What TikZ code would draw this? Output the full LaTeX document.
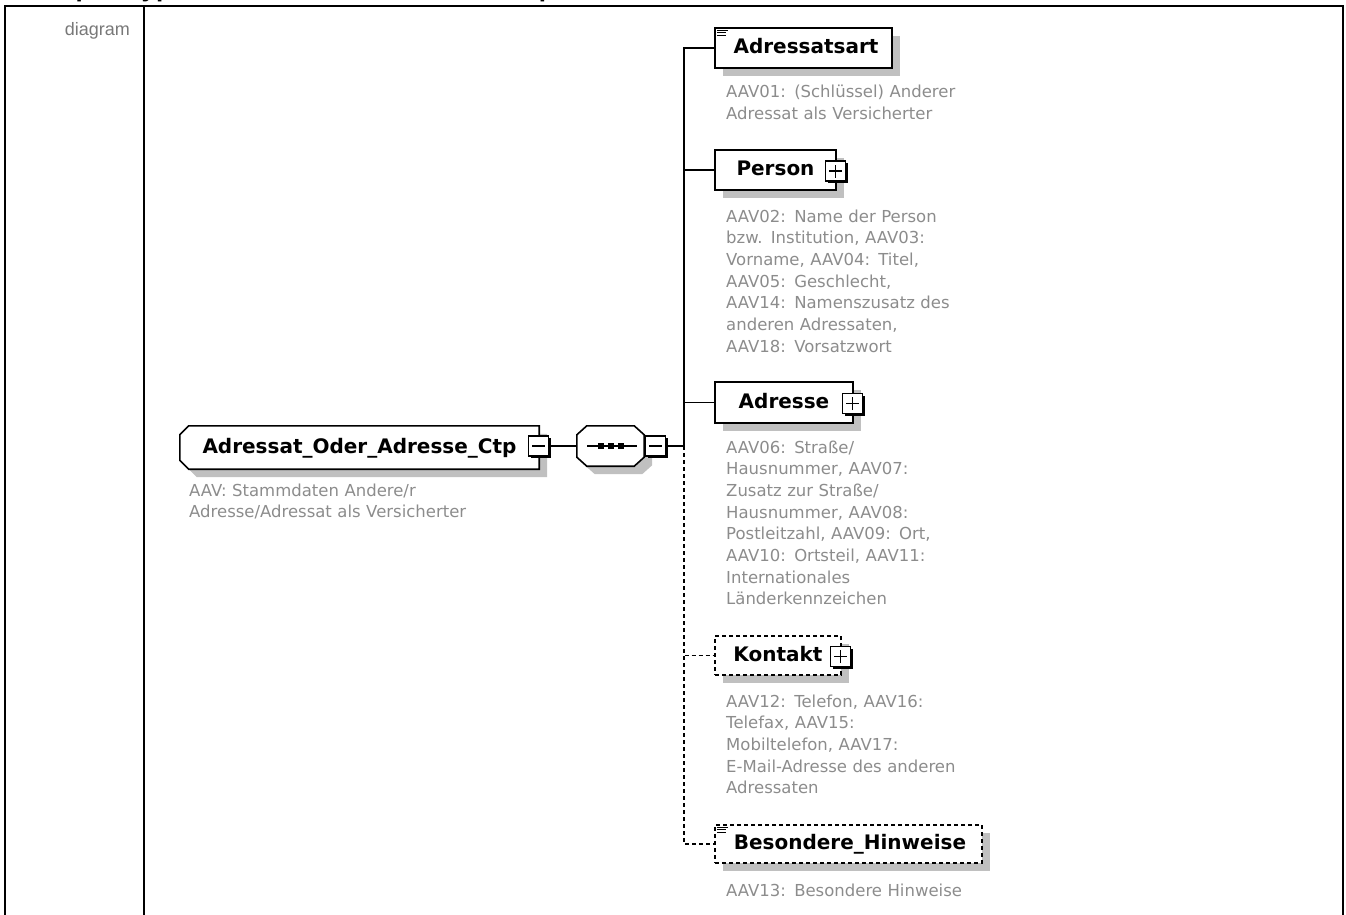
\documentclass[tikz,border=0pt]{standalone}
\usepackage{fontspec}
\setmainfont{DejaVu Sans}
\newfontfamily\arialfont{Liberation Sans}
\usetikzlibrary{shadows}
\definecolor{shadowgray}{RGB}{192,192,192}
\definecolor{descgray}{RGB}{140,140,140}
\definecolor{labelgray}{RGB}{120,120,120}
\pgfdeclarelayer{bg}
\pgfsetlayers{bg,main}
\newcommand\facetIcon[1]{%
  \draw[line width=1pt] ([shift={(3,3)}]#1.north west) -- ++(11,0)
    ([shift={(3,5.5)}]#1.north west) -- ++(9,0)
    ([shift={(3,8)}]#1.north west) -- ++(9,0);}
\begin{document}
\begin{tikzpicture}[x=1pt,y=-1pt,
  boxshadow/.style={general shadow={fill=shadowgray, shadow xshift=8pt, shadow yshift=-8pt}},
  elembox/.style={draw, line width=1.6pt, fill=white, inner sep=0pt, minimum height=40pt,
    text height=15pt, text depth=4pt, font=\bfseries\fontsize{20}{20}\selectfont, boxshadow},
  optbox/.style={elembox, dash pattern=on 4pt off 3pt},
  shapeline/.style={draw, line width=1.6pt, fill=white, boxshadow},
  plainshape/.style={inner sep=0pt, text height=15pt, text depth=4pt, font=\bfseries\fontsize{20}{20}\selectfont},
  pmbox/.style={draw, line width=1.1pt, fill=white, inner sep=0pt, minimum width=20pt, minimum height=20pt,
    general shadow={fill=black, shadow xshift=2.2pt, shadow yshift=-2.2pt}},
  minusbox/.style={pmbox, path picture={\draw[line width=1.1pt]
    ([xshift=-6.5pt]path picture bounding box.center) -- ([xshift=6.5pt]path picture bounding box.center);}},
  plusbox/.style={pmbox, path picture={\draw[line width=1.1pt]
    ([xshift=-6.5pt]path picture bounding box.center) -- ([xshift=6.5pt]path picture bounding box.center)
    ([yshift=-6.5pt]path picture bounding box.center) -- ([yshift=6.5pt]path picture bounding box.center);}},
  conn/.style={line width=1.4pt},
  optconn/.style={line width=1.4pt, dash pattern=on 4pt off 3pt},
  desc/.style={anchor=base west, inner sep=0pt, text width=320pt, align=left, text=descgray,
    font=\fontsize{16.5}{21.7}\selectfont},
  tableline/.style={line width=2pt}
]
\useasboundingbox (0,0) rectangle (1346,915);

% table frame
\begin{scope}
\clip (0,0) rectangle (1346,915);
\node[anchor=base west, inner sep=0pt, font=\arialfont\bfseries\fontsize{26}{26}\selectfont] (hdr) at (22,-3.5) {complexType Adressat\_Oder\_Adresse\_Ctp};
\end{scope}
\draw[tableline] (5,916) -- (5,6) -- (1343,6) -- (1343,916);
\draw[tableline] (144,6) -- (144,916);
\node[anchor=base east, inner sep=0pt, font=\arialfont\fontsize{18}{18}\selectfont, text=labelgray] (diaglabel) at (130,36) {diagram};

% root element
\node[plainshape, minimum width=359pt, minimum height=43pt] (root) at (359.5,447.5) {Adressat\_Oder\_Adresse\_Ctp\hspace{14pt}};
\begin{pgfonlayer}{bg}
\path[shapeline] ([xshift=9pt]root.north west) -- (root.north east) -- (root.south east)
  -- ([xshift=9pt]root.south west) -- ([yshift=9pt]root.south west) -- ([yshift=-9pt]root.north west) -- cycle;
\end{pgfonlayer}
\node[minusbox] (rootminus) at (538.5,446) {};
\node[desc] (rootdesc) at (189,496) {AAV: Stammdaten Andere/r\\Adresse/Adressat als Versicherter};

% sequence compositor
\node[plainshape, minimum width=67pt, minimum height=40pt] (seq) at (610.5,446) {};
\begin{pgfonlayer}{bg}
\path[shapeline] ([xshift=10pt]seq.north west) -- ([xshift=-10pt]seq.north east) -- ([yshift=-9pt]seq.north east)
  -- ([yshift=9pt]seq.south east) -- ([xshift=-10pt]seq.south east) -- ([xshift=10pt]seq.south west)
  -- ([yshift=9pt]seq.south west) -- ([yshift=-9pt]seq.north west) -- cycle;
\end{pgfonlayer}
\draw[line width=1.3pt] ([xshift=-23.5pt]seq.center) -- ([xshift=26.5pt]seq.center);
\foreach \dx in {-9.5,0.5,10.5}
  \fill ([shift={(\dx-3,-3)}]seq.center) rectangle ++(6,6);
\node[minusbox] (seqminus) at (655.5,446) {};

\draw[conn] (rootminus.east) -- (seq.west);
\coordinate (jn) at (684,446);
\draw[conn] (seqminus.east) -- (jn);

% children
\node[elembox, minimum width=177pt] (adressatsart) at (803.5,48) {\hspace{5pt}Adressatsart};
\facetIcon{adressatsart}
\node[desc] (adressatsartdesc) at (726,98) {AAV01: (Schlüssel) Anderer\\Adressat als Versicherter};

\node[elembox, minimum width=121pt] (person) at (775.5,170) {Person\hspace{7pt}};
\node[plusbox] (personplus) at ([shift={(-1,1)}]person.east) {};
\node[desc] (persondesc) at (726,222) {AAV02: Name der Person\\bzw. Institution, AAV03:\\Vorname, AAV04: Titel,\\AAV05: Geschlecht,\\AAV14: Namenszusatz des\\anderen Adressaten,\\AAV18: Vorsatzwort};

\node[elembox, minimum width=138pt, minimum height=41pt] (adresse) at (784,402.5) {Adresse\hspace{8pt}};
\node[plusbox] (adresseplus) at ([shift={(-1,1)}]adresse.east) {};
\node[desc] (adressedesc) at (726,453) {AAV06: Straße/\\Hausnummer, AAV07:\\Zusatz zur Straße/\\Hausnummer, AAV08:\\Postleitzahl, AAV09: Ort,\\AAV10: Ortsteil, AAV11:\\Internationales\\Länderkennzeichen};

\node[optbox, minimum width=126pt, minimum height=39pt] (kontakt) at (778,655.5) {Kontakt\hspace{6pt}};
\node[plusbox] (kontaktplus) at ([shift={(-1,1)}]kontakt.east) {};
\node[desc] (kontaktdesc) at (726,707) {AAV12: Telefon, AAV16:\\Telefax, AAV15:\\Mobiltelefon, AAV17:\\E-Mail-Adresse des anderen\\Adressaten};

\node[optbox, minimum width=267pt, minimum height=38pt] (besondere) at (848.5,844) {\hspace{3pt}Besondere\_Hinweise};
\facetIcon{besondere}
\node[desc] (besonderedesc) at (726,896) {AAV13: Besondere Hinweise};

% connectors
\draw[conn] (jn) |- (adressatsart.west);
\draw[conn] (jn) |- (person.west);
\draw[conn] (jn) |- (adresse.west);
\draw[optconn] (jn) |- (kontakt.west);
\draw[optconn] (jn) |- (besondere.west);
\end{tikzpicture}
\end{document}
